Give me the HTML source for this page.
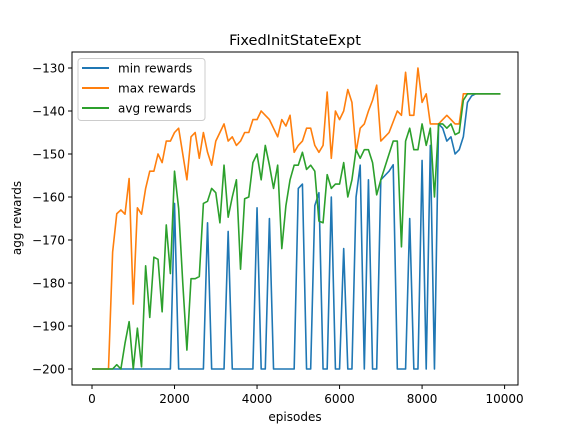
<!DOCTYPE html>
<html><head><meta charset="utf-8"><style>
body{margin:0;background:#fff}
svg{display:block;font-family:"DejaVu Sans","Liberation Sans",sans-serif}
</style></head><body>
<svg id="chart" width="576" height="432" viewBox="0 0 576 432">
<rect x="0" y="0" width="576" height="432" fill="#fff"/>
<text x="295" y="45" font-size="14.5" text-anchor="middle">FixedInitStateExpt</text>
<g id="series"></g>
<g id="axes"></g>
<rect x="72" y="52" width="446" height="333" fill="none" stroke="#000" stroke-width="1"/>
<text x="295" y="421" font-size="12" text-anchor="middle">episodes</text>
<text x="21" y="218" font-size="12" text-anchor="middle" transform="rotate(-90 21 218)">agg rewards</text>
<g>
<rect x="78" y="58.5" width="127" height="62" rx="3" fill="#fff" fill-opacity="0.8" stroke="#ccc"/>
<g><line x1="82" y1="68" x2="109" y2="68" stroke="#1f77b4" stroke-width="2"/><text x="118" y="72.5" font-size="12">min rewards</text></g>
<g><line x1="82" y1="88" x2="109" y2="88" stroke="#ff7f0e" stroke-width="2"/><text x="118" y="92.5" font-size="12">max rewards</text></g>
<g><line x1="82" y1="108" x2="109" y2="108" stroke="#2ca02c" stroke-width="2"/><text x="118" y="112.5" font-size="12">avg rewards</text></g>
</g>
</svg>
<script>
const minRewards=[-200,-200,-200,-200,-200,-200,-200,-200,-200,-200,-200,-200,-200,-200,-200,-200,-200,-200,-200,-200,-161.5,-200,-200,-200,-200,-200,-200,-200,-166,-200,-200,-200,-200,-168,-200,-200,-200,-200,-200,-200,-162.5,-200,-200,-165,-200,-200,-200,-200,-200,-200,-158,-157,-200,-200,-162,-159,-200,-200,-160,-200,-200,-172,-200,-200,-160,-152.6,-200,-156,-200,-200,-156,-155,-154,-152.5,-200,-200,-200,-165,-200,-200,-151.5,-200,-148,-200,-143,-144,-147,-146,-150,-149,-146,-138,-136.5,-136,-136,-136,-136,-136,-136,-136];
const maxRewards=[-200,-200,-200,-200,-200,-172.8,-163.9,-163,-164,-155.7,-184.9,-162.5,-164,-158,-154,-154,-150,-152,-147,-147,-145,-144,-150,-156,-146,-145,-151,-145,-149.6,-152.6,-147,-145,-143,-147,-146,-148,-147,-145,-145,-142,-142,-140,-141,-142,-144,-146,-142,-143.5,-141,-149.6,-148,-147,-144,-144,-148,-149.6,-148,-135.6,-151,-140,-142,-140,-135,-138,-149.6,-144,-143,-140,-137.5,-134,-147,-146,-145,-142.5,-140,-141,-131,-141,-141,-130,-138,-136,-143,-143,-143,-142,-141,-142,-143,-143,-136,-136,-136,-136,-136,-136,-136,-136,-136,-136];
const avgRewards=[-200,-200,-200,-200,-200,-200,-199,-200,-194,-189,-200,-190.5,-199.5,-176,-188,-174,-174.5,-186.7,-166.5,-177.8,-154,-162.7,-180,-195.6,-179,-179,-178.5,-161.5,-161,-158,-159,-166,-152.6,-164.7,-160,-156,-176.8,-160.4,-160,-152,-150,-156,-148,-152.6,-158,-152.6,-172,-162,-156,-152.6,-152.6,-149.6,-153.6,-152.6,-154,-165.6,-166,-154.8,-158,-157,-157,-152,-160,-156,-149,-151,-149,-149,-152,-159.5,-156,-153,-150,-147,-147,-171.6,-147,-144,-149,-149,-143,-148,-144,-160,-143,-143,-144,-143,-145.5,-145,-137.5,-136,-136,-136,-136,-136,-136,-136,-136,-136];
const episodeStep=100;
const xTicks=[0,2000,4000,6000,8000,10000];
const yTicks=[-200,-190,-180,-170,-160,-150,-140,-130];

const NS="http://www.w3.org/2000/svg";
function xScale(e){return 92+e*0.04126;}
function yScale(v){return 68+(-130-v)*4.3;}
const axes=document.getElementById('axes');
xTicks.forEach(t=>{
  const x=xScale(t);
  const l=document.createElementNS(NS,'line');
  l.setAttribute('x1',x);l.setAttribute('x2',x);l.setAttribute('y1',385);l.setAttribute('y2',389);
  l.setAttribute('stroke','#000');
  
  
  axes.appendChild(l);
  const tx=document.createElementNS(NS,'text');
  tx.setAttribute('x',x);tx.setAttribute('y',403);tx.setAttribute('font-size','12');tx.setAttribute('text-anchor','middle');
  tx.textContent=t;
  
  
  axes.appendChild(tx);
});
yTicks.forEach(t=>{
  const y=yScale(t);
  const l=document.createElementNS(NS,'line');
  l.setAttribute('x1',68);l.setAttribute('x2',72);l.setAttribute('y1',y);l.setAttribute('y2',y);
  l.setAttribute('stroke','#000');
  
  
  axes.appendChild(l);
  const tx=document.createElementNS(NS,'text');
  tx.setAttribute('x',65);tx.setAttribute('y',y+4.3);tx.setAttribute('font-size','12');tx.setAttribute('text-anchor','end');
  tx.textContent='\u2212'+Math.abs(t);
  
  
  axes.appendChild(tx);
});
const series=document.getElementById('series');
function drawLine(vals,color,name){
  const p=document.createElementNS(NS,'polyline');
  p.setAttribute('points',vals.map((v,i)=>xScale(i*episodeStep).toFixed(2)+','+yScale(v).toFixed(2)).join(' '));
  p.setAttribute('fill','none');p.setAttribute('stroke',color);p.setAttribute('stroke-width','1.6');
  p.setAttribute('stroke-linejoin','round');
  
  
  series.appendChild(p);
}
drawLine(minRewards,'#1f77b4','min-rewards-line');
drawLine(maxRewards,'#ff7f0e','max-rewards-line');
drawLine(avgRewards,'#2ca02c','avg-rewards-line');
</script>
</body></html>
